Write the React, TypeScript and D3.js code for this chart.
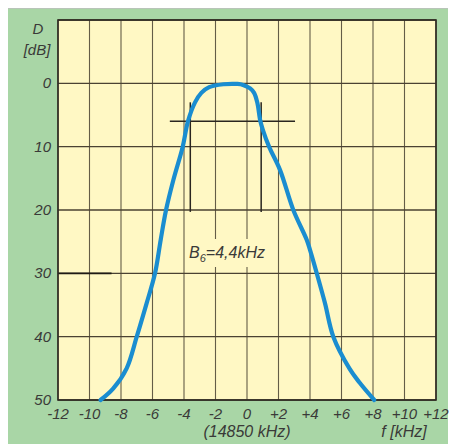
import React from "react";
import * as d3 from "d3";

// frequency offset [kHz] vs attenuation [dB]
const freqKHz = [-9.3, -8.5, -7.64, -7.0, -6.37, -5.84, -5.48, -5.14, -4.68, -4.08, -3.75, -3.3, -2.9, -2.4, -1.5, -0.6, -0.25, 0.2, 0.45, 0.65, 0.85, 1.0, 1.4, 2.1, 2.94, 3.79, 4.0, 4.43, 4.95, 5.48, 6.5, 7.13, 8.08];
const attenDb = [50, 48.2, 45, 40, 34.7, 30, 24.7, 20, 15.3, 10, 6, 3, 1.5, 0.6, 0.15, 0.1, 0.25, 0.8, 1.5, 3, 6, 7.3, 10, 13.7, 20, 24.7, 26.3, 30, 34.7, 40, 45, 47.2, 50];

const xTicks = [-12, -10, -8, -6, -4, -2, 0, 2, 4, 6, 8, 10, 12];
const xTickLabels = ["-12", "-10", "-8", "-6", "-4", "-2", "0", "+2", "+4", "+6", "+8", "+10", "+12"];
const yTicks = [0, 10, 20, 30, 40, 50];
const yGrid = [-10, 0, 10, 20, 30, 40, 50];

// B6 markers
const bwLevelDb = 6;
const bwLineFrom = -4.9;
const bwLineTo = 3.05;
const bwEdges = [-3.6, 0.9];
const bwEdgeTop = 3;
const bwEdgeBottom = 20.3;

const W = 452;
const H = 444;
const plot = { left: 58, right: 436, top: 20, bottom: 400 };
const font = "'Liberation Sans', Arial, sans-serif";
const textColor = "#3a3a38";
const gridColor = "#4a4232";

export default function App() {
  const x = d3.scaleLinear().domain([-12, 12]).range([plot.left, plot.right]);
  const y = d3.scaleLinear().domain([-10, 50]).range([plot.top, plot.bottom]);

  const pts = freqKHz.map((f, i) => [f, attenDb[i]] as [number, number]);
  const path = d3
    .line<[number, number]>()
    .x((d) => x(d[0]))
    .y((d) => y(d[1]))
    .curve(d3.curveCatmullRom.alpha(0.5))(pts);

  return (
    <svg
      width={W}
      height={H}
      style={{ position: "absolute", left: 0, top: 0 }}
      fontFamily={font}
    >
      <rect x={0} y={0} width={W} height={H} fill="#ffffff" />
      <rect x={8} y={8} width={440} height={436} fill="#a9d6a6" />
      <line x1={8} x2={448} y1={8.5} y2={8.5} stroke="#b8c4b8" strokeWidth={1} />
      <rect
        x={plot.left}
        y={plot.top}
        width={plot.right - plot.left}
        height={plot.bottom - plot.top}
        fill="#fff8c4"
      />

      {/* grid */}
      {xTicks.map((t) => (
        <line
          key={"vx" + t}
          x1={x(t)}
          x2={x(t)}
          y1={plot.top}
          y2={plot.bottom}
          stroke={gridColor}
          strokeWidth={1.1}
          opacity={0.85}
        />
      ))}
      {yGrid.map((t) => (
        <line
          key={"hy" + t}
          x1={plot.left}
          x2={plot.right}
          y1={y(t)}
          y2={y(t)}
          stroke={gridColor}
          strokeWidth={1.3}
        />
      ))}
      <line x1={plot.left} x2={x(-8.6)} y1={y(30)} y2={y(30)} stroke="#1e1a14" strokeWidth={1.8} />
      <rect
        x={plot.left}
        y={plot.top}
        width={plot.right - plot.left}
        height={plot.bottom - plot.top}
        fill="none"
        stroke="#2e2a22"
        strokeWidth={1.6}
      />

      {/* B6 label box covers the grid */}
      <rect x={187} y={239} width={88} height={28} fill="#fff8c4" />

      {/* bandwidth markers */}
      <line x1={x(bwLineFrom)} x2={x(bwLineTo)} y1={y(bwLevelDb)} y2={y(bwLevelDb)} stroke="#2a2620" strokeWidth={1.5} />
      {bwEdges.map((f) => (
        <line key={"bw" + f} x1={x(f)} x2={x(f)} y1={y(bwEdgeTop)} y2={y(bwEdgeBottom)} stroke="#2a2620" strokeWidth={1.5} />
      ))}

      {/* response curve */}
      <path d={path ?? ""} fill="none" stroke="#1a8dd0" strokeWidth={4.2} strokeLinecap="round" strokeLinejoin="round" />

      <text x={189} y={258} fontSize={16} fontStyle="italic" fill={textColor}>
        B<tspan fontSize={11} dy={4}>6</tspan>
        <tspan dy={-4}>=4,4kHz</tspan>
      </text>

      {/* y axis */}
      {yTicks.map((t) => (
        <text key={"yl" + t} x={51} y={y(t) + 5} fontSize={15} fontStyle="italic" textAnchor="end" fill={textColor}>
          {t}
        </text>
      ))}
      <text x={38} y={34} fontSize={15} fontStyle="italic" textAnchor="middle" fill={textColor}>D</text>
      <text x={37} y={55} fontSize={15} fontStyle="italic" textAnchor="middle" fill={textColor}>[dB]</text>

      {/* x axis */}
      {xTicks.map((t, i) => (
        <text key={"xl" + t} x={x(t)} y={419} fontSize={15} fontStyle="italic" textAnchor="middle" fill={textColor}>
          {xTickLabels[i]}
        </text>
      ))}
      <text x={x(0)} y={437} fontSize={16} fontStyle="italic" textAnchor="middle" fill={textColor}>(14850 kHz)</text>
      <text x={404} y={437} fontSize={16} fontStyle="italic" textAnchor="middle" fill={textColor}>f [kHz]</text>
    </svg>
  );
}
